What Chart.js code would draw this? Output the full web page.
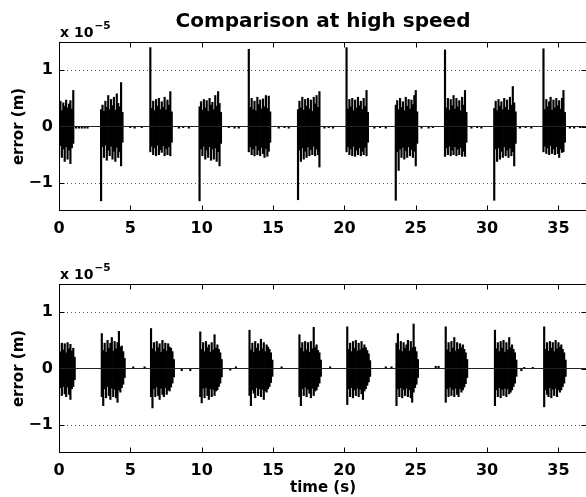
<!DOCTYPE html>
<html>
<head>
<meta charset="utf-8">
<script src="https://cdn.jsdelivr.net/npm/chart.js@4.4.0/dist/chart.umd.min.js"></script>
<style>
html, body { margin: 0; padding: 0; overflow: hidden; background: #fff; }
#wrap { position: relative; width: 586px; height: 497px; overflow: hidden; }
canvas { position: absolute; left: 0; }
#topPlot { top: 0; }
#bottomPlot { top: 242px; }
</style>
</head>
<body>
<div id="wrap">
  <canvas id="topPlot" width="588" height="242"></canvas>
  <canvas id="bottomPlot" width="588" height="255"></canvas>
</div>
<script>
// axes
const xTicks = [0, 5, 10, 15, 20, 25, 30, 35];
const yTicks = [-1, 0, 1];
const yGrid = [-1, 1];
const xMax = 37;
const sampleStep = 0.1; // s between envelope samples inside a burst

// top panel: burst start times (s) and envelope samples (x 1e-5 m)
const topStarts = [0.0, 2.95, 6.4, 9.85, 13.3, 16.75, 20.15, 23.6, 27.05, 30.5, 33.95];
const topHi = [
  [0.30, 0.45, 0.28, 0.42, 0.36, 0.47, 0.33, 0.40, 0.46, 0.31, 0.64],
  [0.30, 0.38, 0.27, 0.45, 0.34, 0.55, 0.30, 0.48, 0.37, 0.52, 0.29, 0.58, 0.41, 0.35, 0.78, 0.25],
  [1.40, 0.32, 0.45, 0.28, 0.48, 0.36, 0.50, 0.30, 0.44, 0.34, 0.52, 0.29, 0.47, 0.38, 0.62, 0.26],
  [0.35, 0.44, 0.29, 0.48, 0.33, 0.46, 0.27, 0.50, 0.38, 0.43, 0.30, 0.55, 0.36, 0.62, 0.41, 0.25],
  [1.37, 0.34, 0.50, 0.30, 0.45, 0.28, 0.52, 0.39, 0.47, 0.31, 0.49, 0.35, 0.55, 0.32, 0.54, 0.26],
  [0.30, 0.45, 0.33, 0.52, 0.29, 0.48, 0.36, 0.50, 0.31, 0.47, 0.27, 0.52, 0.40, 0.55, 0.34, 0.62],
  [1.40, 0.31, 0.48, 0.35, 0.50, 0.28, 0.47, 0.33, 0.52, 0.37, 0.45, 0.30, 0.50, 0.36, 0.64, 0.25],
  [0.38, 0.46, 0.30, 0.50, 0.34, 0.44, 0.28, 0.52, 0.36, 0.48, 0.31, 0.47, 0.39, 0.55, 0.64, 0.26],
  [1.36, 0.33, 0.50, 0.29, 0.48, 0.37, 0.55, 0.31, 0.50, 0.35, 0.46, 0.28, 0.52, 0.38, 0.64, 0.25],
  [0.32, 0.45, 0.28, 0.48, 0.36, 0.44, 0.30, 0.50, 0.34, 0.47, 0.29, 0.52, 0.38, 0.71, 0.42, 0.26],
  [1.38, 0.30, 0.48, 0.35, 0.44, 0.52, 0.29, 0.47, 0.33, 0.50, 0.37, 0.46, 0.31, 0.50, 0.64, 0.25]
];
const topLo = [
  [-0.50, -0.34, -0.55, -0.40, -0.62, -0.36, -0.58, -0.42, -0.66, -0.38, -0.30],
  [-1.32, -0.36, -0.55, -0.33, -0.60, -0.42, -0.52, -0.35, -0.58, -0.44, -0.62, -0.37, -0.55, -0.45, -0.70, -0.28],
  [-0.45, -0.35, -0.50, -0.38, -0.52, -0.33, -0.50, -0.41, -0.46, -0.34, -0.52, -0.39, -0.50, -0.36, -0.52, -0.28],
  [-1.32, -0.40, -0.52, -0.35, -0.58, -0.42, -0.55, -0.36, -0.60, -0.40, -0.58, -0.38, -0.62, -0.45, -0.70, -0.30],
  [-0.45, -0.36, -0.50, -0.40, -0.52, -0.34, -0.50, -0.42, -0.52, -0.37, -0.48, -0.55, -0.39, -0.53, -0.44, -0.28],
  [-1.30, -0.42, -0.62, -0.38, -0.58, -0.44, -0.55, -0.36, -0.52, -0.41, -0.50, -0.35, -0.52, -0.40, -0.50, -0.72],
  [-0.45, -0.36, -0.50, -0.40, -0.52, -0.35, -0.53, -0.42, -0.50, -0.38, -0.52, -0.44, -0.50, -0.37, -0.52, -0.28],
  [-1.31, -0.45, -0.78, -0.40, -0.55, -0.37, -0.58, -0.43, -0.55, -0.36, -0.52, -0.41, -0.55, -0.44, -0.70, -0.30],
  [-0.53, -0.38, -0.50, -0.35, -0.52, -0.42, -0.50, -0.36, -0.52, -0.40, -0.50, -0.37, -0.53, -0.44, -0.53, -0.28],
  [-1.31, -0.40, -0.62, -0.38, -0.58, -0.44, -0.55, -0.36, -0.52, -0.42, -0.55, -0.38, -0.52, -0.45, -0.70, -0.30],
  [-0.45, -0.35, -0.48, -0.38, -0.50, -0.34, -0.48, -0.40, -0.50, -0.36, -0.48, -0.55, -0.40, -0.46, -0.45, -0.28]
];
// small residual blips between bursts
const topGapTimes = [1.2, 1.4, 1.6, 1.8, 2.0, 5.0, 5.3, 5.8, 8.4, 8.7, 9.1, 11.9, 12.3, 12.6, 15.4, 15.8, 16.1,
  18.6, 18.9, 19.2, 22.1, 22.5, 22.9, 25.4, 25.9, 26.2, 28.9, 29.3, 29.6, 32.3, 32.7, 33.1, 35.8, 36.1, 36.5];
const topGapValues = [-0.03, -0.03, -0.03, -0.03, -0.03, -0.02, -0.03, -0.02, -0.03, -0.02, -0.03, -0.02, -0.03, -0.03, -0.03, -0.02, -0.03,
  -0.03, -0.02, -0.03, -0.03, -0.02, -0.03, -0.03, -0.03, -0.02, -0.03, -0.02, -0.03, -0.03, -0.02, -0.03, -0.03, -0.03, -0.02];

// bottom panel
const botStarts = [0.0, 3.0, 6.45, 9.9, 13.35, 16.85, 20.2, 23.65, 27.1, 30.55, 34.0];
const botHi = [
  [0.42, 0.30, 0.45, 0.33, 0.44, 0.28, 0.46, 0.35, 0.43, 0.31, 0.36, 0.20],
  [0.62, 0.32, 0.45, 0.29, 0.50, 0.36, 0.45, 0.55, 0.31, 0.48, 0.35, 0.46, 0.66, 0.38, 0.40, 0.30, 0.18],
  [0.71, 0.35, 0.46, 0.30, 0.48, 0.37, 0.44, 0.29, 0.50, 0.34, 0.45, 0.31, 0.44, 0.38, 0.36, 0.30, 0.16],
  [0.65, 0.34, 0.46, 0.30, 0.48, 0.37, 0.42, 0.29, 0.46, 0.33, 0.60, 0.36, 0.42, 0.34, 0.28, 0.16],
  [0.68, 0.33, 0.45, 0.29, 0.48, 0.36, 0.44, 0.31, 0.52, 0.35, 0.46, 0.30, 0.42, 0.38, 0.34, 0.28, 0.15],
  [0.60, 0.36, 0.46, 0.30, 0.48, 0.33, 0.46, 0.29, 0.48, 0.35, 0.73, 0.37, 0.42, 0.32, 0.28, 0.15],
  [0.74, 0.34, 0.45, 0.30, 0.48, 0.36, 0.50, 0.31, 0.45, 0.33, 0.48, 0.36, 0.42, 0.37, 0.32, 0.26, 0.14],
  [0.45, 0.62, 0.33, 0.48, 0.30, 0.46, 0.36, 0.42, 0.50, 0.31, 0.48, 0.37, 0.79, 0.38, 0.30, 0.16],
  [0.74, 0.33, 0.46, 0.29, 0.48, 0.36, 0.55, 0.31, 0.46, 0.34, 0.44, 0.37, 0.42, 0.34, 0.28, 0.16],
  [0.68, 0.35, 0.46, 0.30, 0.48, 0.36, 0.50, 0.29, 0.46, 0.33, 0.55, 0.37, 0.42, 0.34, 0.28, 0.15],
  [0.74, 0.34, 0.46, 0.31, 0.48, 0.36, 0.46, 0.30, 0.50, 0.35, 0.46, 0.38, 0.42, 0.34, 0.28, 0.15]
];
const botLo = [
  [-0.55, -0.34, -0.48, -0.32, -0.45, -0.50, -0.33, -0.46, -0.55, -0.36, -0.32, -0.20],
  [-0.50, -0.66, -0.36, -0.52, -0.32, -0.48, -0.55, -0.35, -0.50, -0.37, -0.52, -0.60, -0.38, -0.42, -0.34, -0.28, -0.16],
  [-0.50, -0.70, -0.36, -0.50, -0.33, -0.48, -0.55, -0.35, -0.46, -0.50, -0.34, -0.46, -0.38, -0.40, -0.33, -0.26, -0.15],
  [-0.50, -0.61, -0.35, -0.52, -0.34, -0.48, -0.55, -0.36, -0.50, -0.37, -0.48, -0.40, -0.38, -0.32, -0.26, -0.15],
  [-0.48, -0.66, -0.38, -0.44, -0.52, -0.34, -0.48, -0.36, -0.50, -0.37, -0.55, -0.40, -0.42, -0.36, -0.32, -0.25, -0.14],
  [-0.50, -0.66, -0.36, -0.48, -0.33, -0.50, -0.37, -0.44, -0.52, -0.35, -0.48, -0.40, -0.38, -0.32, -0.26, -0.14],
  [-0.64, -0.36, -0.50, -0.34, -0.52, -0.38, -0.48, -0.35, -0.50, -0.37, -0.45, -0.55, -0.40, -0.36, -0.30, -0.24, -0.14],
  [-0.66, -0.36, -0.50, -0.34, -0.52, -0.37, -0.48, -0.35, -0.50, -0.38, -0.52, -0.60, -0.42, -0.34, -0.28, -0.16],
  [-0.60, -0.36, -0.50, -0.33, -0.48, -0.37, -0.50, -0.35, -0.46, -0.50, -0.36, -0.42, -0.38, -0.33, -0.27, -0.16],
  [-0.66, -0.38, -0.50, -0.34, -0.52, -0.37, -0.48, -0.35, -0.50, -0.36, -0.45, -0.42, -0.38, -0.32, -0.26, -0.14],
  [-0.68, -0.38, -0.46, -0.50, -0.34, -0.52, -0.37, -0.48, -0.35, -0.50, -0.38, -0.42, -0.38, -0.32, -0.26, -0.14]
];
const botGapTimes = [5.2, 6.0, 8.6, 9.2, 12.0, 12.4, 15.6, 19.0, 22.9, 23.3, 26.4, 26.6, 32.4, 32.6, 33.2];
const botGapValues = [0.03, 0.03, -0.04, -0.04, -0.03, 0.03, 0.03, 0.03, 0.03, 0.03, 0.04, 0.04, -0.04, 0.02, 0.02];

const FONT = '"DejaVu Sans", "Liberation Sans", Arial, sans-serif';

function buildBars(starts, his, los, gapTimes, gapValues) {
    const pts = [];
    starts.forEach((s, b) => {
        his[b].forEach((h, i) => {
            pts.push({ x: +(s + i * sampleStep).toFixed(2), y: [los[b][i], h] });
        });
    });
    gapTimes.forEach((t, i) => {
        const v = gapValues[i];
        pts.push({ x: t, y: v < 0 ? [v, 0] : [0, v] });
    });
    return pts;
}

const fmtY = v => (v < 0 ? '\u2212' + Math.abs(v) : String(v));

const matlabAxes = {
    id: 'matlabAxes',
    beforeDatasetsDraw(chart) {
        const { ctx, chartArea: a, scales: { y } } = chart;
        ctx.save();
        ctx.strokeStyle = '#555';
        ctx.lineWidth = 1;
        ctx.setLineDash([1, 3]);
        yGrid.forEach(v => {
            const py = Math.round(y.getPixelForValue(v)) + 0.5;
            ctx.beginPath();
            ctx.moveTo(a.left, py);
            ctx.lineTo(a.right, py);
            ctx.stroke();
        });
        ctx.restore();
    },
    afterDraw(chart, args, opts) {
        const { ctx, chartArea: a, scales: { x, y } } = chart;
        ctx.save();
        ctx.strokeStyle = '#000';
        ctx.lineWidth = 1;
        const L = Math.round(a.left) + 0.5, R = Math.round(a.right) - 0.5;
        const T = Math.round(a.top) + 0.5, B = Math.round(a.bottom) - 0.5;
        ctx.strokeRect(L, T, R - L, B - T);
        ctx.beginPath();
        xTicks.forEach(v => {
            const px = Math.round(x.getPixelForValue(v)) + 0.5;
            ctx.moveTo(px, T); ctx.lineTo(px, T + 5);
            ctx.moveTo(px, B); ctx.lineTo(px, B - 5);
        });
        yTicks.forEach(v => {
            const py = Math.round(y.getPixelForValue(v)) + 0.5;
            ctx.moveTo(L, py); ctx.lineTo(L + 5, py);
            ctx.moveTo(R, py); ctx.lineTo(R - 5, py);
        });
        ctx.stroke();

        ctx.fillStyle = '#000';
        if (opts.title) {
            ctx.font = 'bold 20px ' + FONT;
            ctx.textAlign = 'center';
            ctx.textBaseline = 'alphabetic';
            ctx.fillText(opts.title, (a.left + a.right) / 2, 26.5);
        }
        // exponent label
        ctx.textAlign = 'left';
        ctx.textBaseline = 'alphabetic';
        ctx.font = 'bold 14px ' + FONT;
        ctx.fillText('x 10', a.left + 1, 37);
        const w = ctx.measureText('x 10').width;
        ctx.font = 'bold 10.5px ' + FONT;
        ctx.fillText('\u22125', a.left + 2 + w, 28.5);

        // y label
        ctx.save();
        ctx.translate(23, (a.top + a.bottom) / 2);
        ctx.rotate(-Math.PI / 2);
        ctx.font = 'bold 15px ' + FONT;
        ctx.textAlign = 'center';
        ctx.fillText(opts.yLabel, 0, 0);
        ctx.restore();

        if (opts.xLabel) {
            ctx.font = 'bold 15px ' + FONT;
            ctx.textAlign = 'center';
            ctx.fillText(opts.xLabel, (a.left + a.right) / 2, 250);
        }
        ctx.restore();
    }
};

function makePanel(canvasId, bars, xAxisHeight, texts) {
    const ctx = document.getElementById(canvasId).getContext('2d');
    return new Chart(ctx, {
        data: {
            datasets: [
                {
                    type: 'line',
                    data: [{ x: 0, y: 0 }, { x: xMax, y: 0 }],
                    borderColor: '#222',
                    borderWidth: 1,
                    pointRadius: 0
                },
                {
                    type: 'bar',
                    data: bars,
                    backgroundColor: '#000',
                    borderWidth: 0,
                    barThickness: 1.5,
                    grouped: false
                }
            ]
        },
        options: {
            responsive: false,
            animation: false,
            devicePixelRatio: 1,
            layout: { padding: { top: 42, left: 0, right: 1, bottom: 0 } },
            plugins: {
                legend: { display: false },
                tooltip: { enabled: false },
                matlabAxes: texts
            },
            scales: {
                x: {
                    type: 'linear',
                    min: 0,
                    max: xMax,
                    offset: false,
                    grid: { display: false, drawTicks: false },
                    border: { display: false },
                    afterBuildTicks: s => { s.ticks = xTicks.map(v => ({ value: v })); },
                    afterFit: s => { s.height = xAxisHeight; },
                    ticks: {
                        autoSkip: false,
                        maxRotation: 0,
                        padding: 8,
                        color: '#000',
                        font: { family: FONT, weight: 'bold', size: 16 }
                    }
                },
                y: {
                    min: -1.5,
                    max: 1.5,
                    grid: { display: false, drawTicks: false },
                    border: { display: false },
                    afterBuildTicks: s => { s.ticks = yTicks.map(v => ({ value: v })); },
                    afterFit: s => { s.width = 59; },
                    ticks: {
                        padding: 6,
                        color: '#000',
                        callback: fmtY,
                        font: { family: FONT, weight: 'bold', size: 16 }
                    }
                }
            }
        },
        plugins: [matlabAxes]
    });
}

makePanel('topPlot', buildBars(topStarts, topHi, topLo, topGapTimes, topGapValues), 31,
    { title: 'Comparison at high speed', yLabel: 'error (m)' });
makePanel('bottomPlot', buildBars(botStarts, botHi, botLo, botGapTimes, botGapValues), 44,
    { yLabel: 'error (m)', xLabel: 'time (s)' });
</script>
</body>
</html>
